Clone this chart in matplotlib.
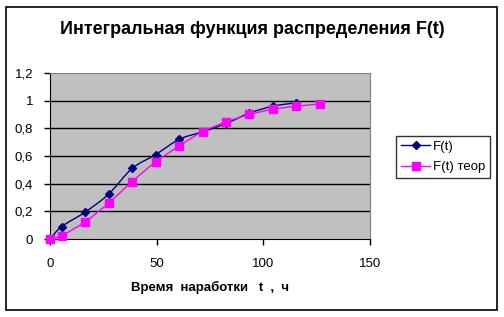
import numpy as np
import matplotlib.pyplot as plt
from matplotlib.path import Path
from matplotlib.patches import PathPatch, Rectangle
from matplotlib.lines import Line2D

plt.rcParams['font.family'] = ['Liberation Sans', 'DejaVu Sans']

# data
t_emp = [0, 5.5, 16.5, 27.5, 38.5, 49.5, 60.5, 71.5, 82.5, 93.5, 104.5, 115.5]
f_emp = [0, 0.09, 0.195, 0.325, 0.51, 0.61, 0.72, 0.775, 0.835, 0.91, 0.96, 0.985]
t_teor = [0, 5.5, 16.5, 27.5, 38.5, 49.5, 60.5, 71.5, 82.5, 93.5, 104.5, 115.5, 126.5]
f_teor = [0, 0.025, 0.125, 0.26, 0.415, 0.557, 0.672, 0.776, 0.846, 0.90, 0.938, 0.96, 0.976]

title = 'Интегральная функция распределения F(t)'
xlabel = 'Время  наработки   t  ,  ч'
names = ['F(t)', 'F(t) теор']
yticks = [0, 0.2, 0.4, 0.6, 0.8, 1.0, 1.2]
ytick_labels = ['0', '0,2', '0,4', '0,6', '0,8', '1', '1,2']
xticks = [0, 50, 100, 150]


# smooth line like excel (bezier through the points)
def smooth_path(x, y, k=1/6):
    x = np.asarray(x, float)
    y = np.asarray(y, float)
    verts = [(x[0], y[0])]
    codes = [Path.MOVETO]
    n = len(x)
    for i in range(n - 1):
        i0 = max(i - 1, 0)
        i3 = min(i + 2, n - 1)
        c1 = (x[i] + (x[i + 1] - x[i0]) * k, y[i] + (y[i + 1] - y[i0]) * k)
        c2 = (x[i + 1] - (x[i3] - x[i]) * k, y[i + 1] - (y[i3] - y[i]) * k)
        verts += [c1, c2, (x[i + 1], y[i + 1])]
        codes += [Path.CURVE4] * 3
    return Path(verts, codes)


fig = plt.figure(figsize=(5.04, 3.17), dpi=100)
fig.patches.append(Rectangle((6 / 504, 7 / 317), 491 / 504, 303 / 317,
                             transform=fig.transFigure, fill=False,
                             edgecolor='black', linewidth=1.2))

ax = fig.add_axes([50 / 504, 1 - 239 / 317, 320 / 504, 166 / 317])
ax.set_facecolor('#C0C0C0')
ax.set_xlim(0, 150)
ax.set_ylim(0, 1.2)

for yy in yticks[1:-1]:
    ax.axhline(yy, color='black', linewidth=1, zorder=1)

for sp in ['top', 'right']:
    ax.spines[sp].set_color('#808080')
for sp in ['left', 'bottom']:
    ax.spines[sp].set_color('black')

ax.add_patch(PathPatch(smooth_path(t_emp, f_emp), fill=False,
                       edgecolor='#000080', linewidth=1, zorder=3))
ax.plot(t_emp, f_emp, linestyle='none', marker='D', markersize=4.5,
        color='#000080', zorder=4, clip_on=False)
ax.add_patch(PathPatch(smooth_path(t_teor, f_teor), fill=False,
                       edgecolor='#FF00FF', linewidth=1, zorder=3))
ax.plot(t_teor, f_teor, linestyle='none', marker='s', markersize=5.5,
        color='#FF00FF', zorder=4, clip_on=False)

ax.set_yticks(yticks)
ax.set_yticklabels(ytick_labels)
ax.set_xticks(xticks)
ax.tick_params(axis='both', labelsize=9.5, length=4, width=1, direction='out')
ax.tick_params(axis='x', pad=10)
ax.tick_params(axis='y', pad=8)

fig.text(0.5, 1 - 29 / 317, title, ha='center', va='center',
         fontsize=13, fontweight='bold')
fig.text(210 / 504, 1 - 287 / 317, xlabel, ha='center', va='center',
         fontsize=9.5, fontweight='bold')

handles = [
    Line2D([], [], color='#000080', marker='D', markersize=4.5, linewidth=1),
    Line2D([], [], color='#FF00FF', marker='s', markersize=5.5, linewidth=1),
]
leg = fig.legend(handles, names, loc='center', bbox_to_anchor=(443 / 504, 1 - 157 / 317),
                 fontsize=9.5, frameon=True, fancybox=False, handlelength=2.2,
                 handletextpad=0.2, borderpad=0.4, labelspacing=0.6)
leg.get_frame().set_edgecolor('black')
leg.get_frame().set_linewidth(1)

fig.savefig('out.png', dpi=100)
